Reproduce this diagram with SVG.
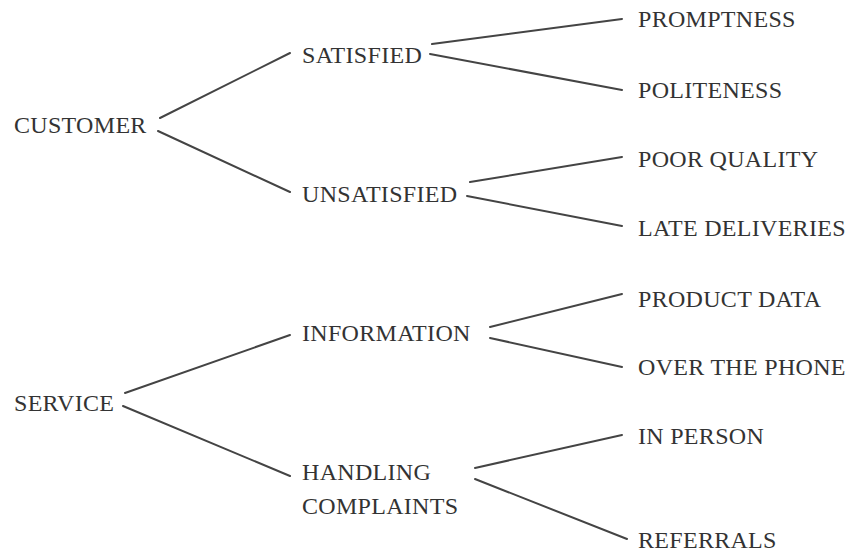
<svg xmlns="http://www.w3.org/2000/svg" width="857" height="552" viewBox="0 0 857 552">
  <style>
    text { font-family: "Liberation Serif", "DejaVu Serif", serif; font-size: 24px; letter-spacing: 0.3px; fill: #333; }
    .edge { stroke: #444; stroke-width: 2; fill: none; stroke-linecap: round; }
  </style>
  <rect width="857" height="552" fill="#fff"/>
  <g id="connectors">
    <line class="edge" x1="160" y1="118" x2="290" y2="53"/>
    <line class="edge" x1="158" y1="131" x2="290" y2="192"/>
    <line class="edge" x1="432" y1="44" x2="622" y2="19"/>
    <line class="edge" x1="430" y1="54" x2="622" y2="90"/>
    <line class="edge" x1="470" y1="182" x2="622" y2="157"/>
    <line class="edge" x1="467" y1="196" x2="622" y2="226"/>
    <line class="edge" x1="125" y1="393" x2="290" y2="335"/>
    <line class="edge" x1="123" y1="406" x2="290" y2="476"/>
    <line class="edge" x1="490" y1="327" x2="622" y2="294"/>
    <line class="edge" x1="490" y1="338" x2="622" y2="367"/>
    <line class="edge" x1="475" y1="468" x2="622" y2="435"/>
    <line class="edge" x1="475" y1="479" x2="627" y2="539"/>
  </g>
  <g id="customer"><text x="14" y="133">CUSTOMER</text></g>
  <g id="satisfied"><text x="302" y="63">SATISFIED</text></g>
  <g id="unsatisfied"><text x="302" y="202">UNSATISFIED</text></g>
  <g id="promptness"><text x="638" y="27">PROMPTNESS</text></g>
  <g id="politeness"><text x="638" y="98">POLITENESS</text></g>
  <g id="poor-quality"><text x="638" y="167">POOR QUALITY</text></g>
  <g id="late-deliveries"><text x="638" y="236">LATE DELIVERIES</text></g>
  <g id="service"><text x="14" y="411">SERVICE</text></g>
  <g id="information"><text x="302" y="341">INFORMATION</text></g>
  <g id="handling-complaints">
    <text x="302" y="480">HANDLING</text>
    <text x="302" y="514">COMPLAINTS</text>
  </g>
  <g id="product-data"><text x="638" y="307">PRODUCT DATA</text></g>
  <g id="over-the-phone"><text x="638" y="375">OVER THE PHONE</text></g>
  <g id="in-person"><text x="638" y="444">IN PERSON</text></g>
  <g id="referrals"><text x="638" y="548">REFERRALS</text></g>
</svg>
